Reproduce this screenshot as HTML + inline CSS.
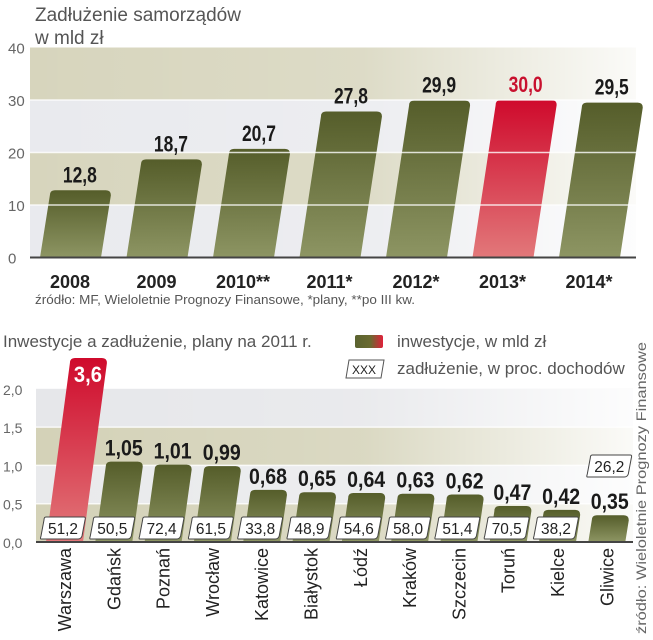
<!DOCTYPE html>
<html><head><meta charset="utf-8"><style>
body{margin:0;background:#fff;}
svg{display:block;}
text{font-family:"Liberation Sans",sans-serif;}
.n{font-family:"Liberation Sans Narrow","Liberation Sans",sans-serif;font-weight:bold;}
</style></head><body>
<svg id="c" width="653" height="640" viewBox="0 0 653 640">
<defs>
<linearGradient id="gOl" x1="0" y1="0" x2="0" y2="1"><stop offset="0" stop-color="#555d2a"/><stop offset="1" stop-color="#8d9563"/></linearGradient>
<linearGradient id="gRd" x1="0" y1="0" x2="0" y2="1"><stop offset="0" stop-color="#cf0a2c"/><stop offset="1" stop-color="#e2787a"/></linearGradient>
<linearGradient id="fade" x1="0" y1="0" x2="1" y2="0"><stop offset="0" stop-color="#fff" stop-opacity="0"/><stop offset="0.55" stop-color="#fff" stop-opacity="0.15"/><stop offset="1" stop-color="#fff" stop-opacity="0.9"/></linearGradient>
<linearGradient id="lg" x1="0" y1="0" x2="1" y2="0"><stop offset="0" stop-color="#5a6330"/><stop offset="0.55" stop-color="#6a6a30"/><stop offset="1" stop-color="#e0203a"/></linearGradient>
</defs>
<text x="35" y="21" font-size="19" fill="#555">Zadłużenie samorządów</text>
<text x="35" y="44" font-size="19" fill="#555">w mld zł</text>
<text x="35" y="304" font-size="13" fill="#555" textLength="380" lengthAdjust="spacingAndGlyphs">źródło: MF, Wieloletnie Prognozy Finansowe, *plany, **po III kw.</text>
<text x="3" y="347" font-size="17" fill="#555">Inwestycje a zadłużenie, plany na 2011 r.</text>
<rect x="355" y="335" width="28" height="13" rx="2" fill="url(#lg)"/>
<text x="397" y="347" font-size="17" fill="#555">inwestycje, w mld zł</text>
<path d="M349 360 L384 360 L381 378 L346 378 Z" fill="#fff" stroke="#555" stroke-width="1"/>
<text x="364" y="374" font-size="12" text-anchor="middle" fill="#222">XXX</text>
<text x="397" y="374" font-size="17" fill="#555">zadłużenie, w proc. dochodów</text>
<text transform="translate(646,634) rotate(-90)" font-size="14" fill="#666" textLength="292" lengthAdjust="spacingAndGlyphs">źródło: Wieloletnie Prognozy Finansowe</text>
<g id="top"></g><g id="bot"></g>
</svg>
<script>
const years=["2008","2009","2010**","2011*","2012*","2013*","2014*"];
const debt=[12.8,18.7,20.7,27.8,29.9,30.0,29.5];
const debtLabels=["12,8","18,7","20,7","27,8","29,9","30,0","29,5"];
const highlightYear="2013*";
const yTicksTop=[0,10,20,30,40];

const cities=["Warszawa","Gdańsk","Poznań","Wrocław","Katowice","Białystok","Łódź","Kraków","Szczecin","Toruń","Kielce","Gliwice"];
const invest=[3.6,1.05,1.01,0.99,0.68,0.65,0.64,0.63,0.62,0.47,0.42,0.35];
const investLabels=["3,6","1,05","1,01","0,99","0,68","0,65","0,64","0,63","0,62","0,47","0,42","0,35"];
const debtPct=["51,2","50,5","72,4","61,5","33,8","48,9","54,6","58,0","51,4","70,5","38,2","26,2"];
const yTicksBot=[0,0.5,1.0,1.5,2.0];
const yTickLabelsBot=["0,0","0,5","1,0","1,5","2,0"];

const NS="http://www.w3.org/2000/svg";
function mk(p,t,a){const e=document.createElementNS(NS,t);for(const k in a)e.setAttribute(k,a[k]);p.appendChild(e);return e;}
function rbar(x0,w,yb,yt,slope,r){const dx=(yb-yt)*slope;const xl=x0+dx,xr=x0+w+dx;
 return `M${x0} ${yb} L${xl} ${yt+r} Q${xl} ${yt} ${xl+r} ${yt} L${xr-r} ${yt} Q${xr} ${yt} ${xr} ${yt+r} L${x0+w} ${yb} Z`;}

// TOP CHART
const T=document.getElementById('top');
const yT=v=>257.5-v*5.25, xT=i=>40+i*86.5;
const bands=[[30,40,"#d7d5bd"],[20,30,"#e9eaee"],[10,20,"#d7d5bd"],[0,10,"#e9eaee"]];
bands.forEach(b=>{const r=mk(T,'rect',{x:30,y:yT(b[1]),width:606,height:yT(b[0])-yT(b[1]),fill:b[2]});
});
const fd=mk(T,'rect',{x:30,y:yT(40),width:606,height:yT(0)-yT(40),fill:"url(#fade)"});

yTicksTop.forEach(v=>{const t=mk(T,'text',{x:8,y:yT(v)+6,'font-size':15,fill:'#666'});t.textContent=v;
});
debt.forEach((v,i)=>{const hl=years[i]===highlightYear;
 const p=mk(T,'path',{d:rbar(xT(i),61,yT(0),yT(v),0.147,5),fill:hl?'url(#gRd)':'url(#gOl)'});
 
 const l=mk(T,'text',{x:xT(i)+30,y:288,'font-size':18,'text-anchor':'middle',fill:'#222','font-weight':'bold'});l.textContent=years[i];
 });
[10,20,30].forEach(v=>{const g=mk(T,'line',{x1:30,x2:636,y1:yT(v),y2:yT(v),stroke:'#fff','stroke-width':1.5,'stroke-opacity':0.8});
});
debt.forEach((v,i)=>{const hl=years[i]===highlightYear;
 const cx=xT(i)+30+(yT(0)-yT(v))*0.147;
 const t=mk(T,'text',{x:cx-17,y:yT(v)-8,'font-size':22,fill:hl?'#c8102e':'#1a1a1a','class':'n',textLength:34,lengthAdjust:'spacingAndGlyphs'});t.textContent=debtLabels[i];
 });
const ax=mk(T,'line',{x1:30,x2:636,y1:yT(0),y2:yT(0),stroke:'#444','stroke-width':2});


// BOTTOM CHART
const B=document.getElementById('bot');
const yB=v=>542-v*76.6, xB=i=>46+i*49.3;
const bb=[[1.5,2.0,"#e6e7ea"],[1.0,1.5,"#d4d2b8"],[0.5,1.0,"#e9eaec"],[0,0.5,"#d4d2b8"]];
bb.forEach(b=>{const r=mk(B,'rect',{x:36,y:yB(b[1]),width:597,height:yB(b[0])-yB(b[1]),fill:b[2]});
});
const fd2=mk(B,'rect',{x:36,y:yB(2),width:597,height:yB(0)-yB(2),fill:"url(#fade)"});

yTicksBot.forEach((v,k)=>{const t=mk(B,'text',{x:3,y:yB(v)+6,'font-size':14,fill:'#666'});t.textContent=yTickLabelsBot[k];
});
[0.5,1.0,1.5].forEach(v=>{const g=mk(B,'line',{x1:36,x2:633,y1:yB(v),y2:yB(v),stroke:'#fff','stroke-width':1.5,'stroke-opacity':0.8});
});
const cap=358;
invest.forEach((v,i)=>{const red=i===0;const yt=Math.max(yB(v),cap);
 const p=mk(B,'path',{d:rbar(xB(i),37,yB(0),yt,0.13,5),fill:red?'url(#gRd)':'url(#gOl)'});
 
 const dx=(yB(0)-yt)*0.13;const cx=xB(i)+18+dx;
 const tl=investLabels[i].length>3?38:28;
 const t=mk(B,'text',{x:cx-tl/2,y:red?yt+24:yt-6,'font-size':22,fill:red?'#fff':'#1a1a1a','class':'n',textLength:tl,lengthAdjust:'spacingAndGlyphs'});t.textContent=investLabels[i];
 
 const last=i===cities.length-1;
 const by=last?455:517, bx=last?xB(i):xB(i)-4;
 const bxp=mk(B,'path',{d:`M${bx+4} ${by} L${bx+42} ${by} Q${bx+44} ${by} ${bx+43} ${by+3} L${bx+40} ${by+19} Q${bx+39} ${by+22} ${bx+36} ${by+22} L${bx-1} ${by+22} Q${bx-2} ${by+22} ${bx-1} ${by+19} L${bx+2} ${by+3} Q${bx+2} ${by} ${bx+4} ${by} Z`,fill:'#fff',stroke:'#444','stroke-width':1});
 
 const bt=mk(B,'text',{x:bx+6,y:by+17,'font-size':16,fill:'#222',textLength:30,lengthAdjust:'spacingAndGlyphs'});bt.textContent=debtPct[i];
 
 const cl=mk(B,'text',{transform:`translate(${xB(i)+25},548) rotate(-90)`,'font-size':18,'text-anchor':'end',fill:'#222'});cl.textContent=cities[i];
 });
const ax2=mk(B,'line',{x1:36,x2:633,y1:yB(0),y2:yB(0),stroke:'#444','stroke-width':2});

</script>
</body></html>
